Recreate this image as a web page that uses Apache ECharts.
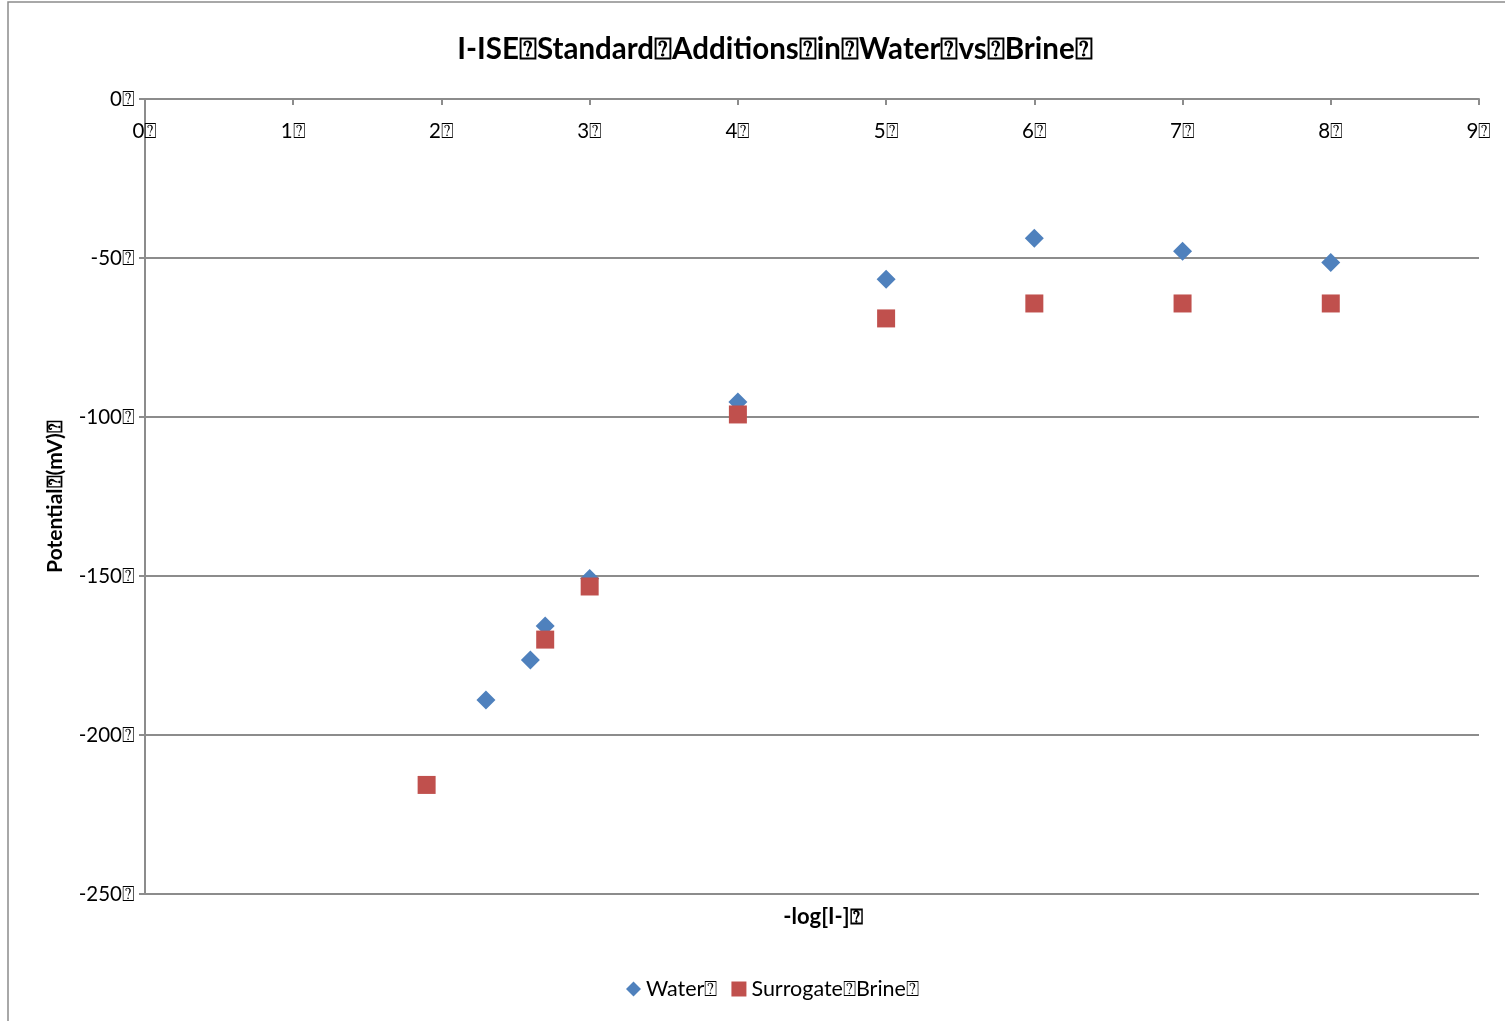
<!DOCTYPE html>
<html>
<head>
<meta charset="utf-8">
<script src="https://cdn.jsdelivr.net/npm/echarts@6/dist/echarts.min.js"></script>
<style>
  html, body { margin: 0; padding: 0; background: #fff; }
  #chart { width: 1505px; height: 1021px; }
</style>
</head>
<body>
<div id="chart"></div>
<script>
// 缺字符号（原图中显示为方框）
const Q = '\u2370';

// 数据
const waterX = [2.3, 2.6, 2.7, 3, 4, 5, 6, 7, 8];
const waterY = [-189, -176.4, -165.7, -150.8, -95.3, -56.7, -43.8, -47.9, -51.4];
const brineX = [1.9, 2.7, 3, 4, 5, 6, 7, 8];
const brineY = [-215.7, -170, -153.3, -99.2, -69, -64.3, -64.3, -64.3];

const FONT = 'Lato, "Noto Sans", sans-serif';
const AXIS_COLOR = '#8c8c8c';

const chart = echarts.init(document.getElementById('chart'));

const option = {
  backgroundColor: '#fff',
  animation: false,
  title: [
    {
      text: 'I-ISE' + Q + 'Standard' + Q + 'Additions' + Q + 'in' + Q + 'Water' + Q + 'vs' + Q + 'Brine' + Q,
      left: 770,
      textAlign: 'center',
      top: 29,
      textStyle: { fontFamily: FONT, fontSize: 29.5, fontWeight: 'bold', color: '#000' }
    },
    {
      text: '-log[I-]' + Q,
      left: 818,
      textAlign: 'center',
      top: 901,
      textStyle: { fontFamily: FONT, fontSize: 22, fontWeight: 'bold', color: '#000' }
    }
  ],
  graphic: [
    {
      type: 'rect',
      shape: { x: 8, y: 2, width: 1600, height: 1100 },
      style: { fill: 'none', stroke: '#8c8c8c', lineWidth: 1.5 },
      silent: true
    }
  ],
  legend: {
    left: 621,
    top: 973,
    orient: 'horizontal',
    itemWidth: 15,
    itemHeight: 15,
    itemGap: 14,
    textStyle: { fontFamily: FONT, fontSize: 21.5, color: '#000' },
    data: [
      { name: 'Water' + Q, icon: 'diamond' },
      { name: 'Surrogate' + Q + 'Brine' + Q, icon: 'rect' }
    ]
  },
  grid: { left: 145, top: 99, right: 26, bottom: 127 },
  xAxis: {
    type: 'value',
    min: 0,
    max: 9,
    interval: 1,
    position: 'top',
    axisLine: { onZero: false, lineStyle: { color: AXIS_COLOR, width: 2 } },
    axisTick: { show: true, inside: true, length: 6, lineStyle: { color: AXIS_COLOR, width: 2 } },
    axisLabel: {
      inside: true,
      margin: 22,
      fontFamily: FONT,
      fontSize: 20.5,
      color: '#000',
      formatter: v => v + Q
    },
    splitLine: { show: false }
  },
  yAxis: {
    type: 'value',
    min: -250,
    max: 0,
    interval: 50,
    name: 'Potential' + Q + '(mV)' + Q,
    nameLocation: 'middle',
    nameGap: 79,
    nameRotate: 90,
    nameTextStyle: { fontFamily: FONT, fontSize: 21, fontWeight: 'bold', color: '#000' },
    axisLine: { show: true, lineStyle: { color: AXIS_COLOR, width: 2 } },
    axisTick: { show: true, inside: false, length: 6, lineStyle: { color: AXIS_COLOR, width: 2 } },
    axisLabel: {
      margin: 10,
      fontFamily: FONT,
      fontSize: 20.5,
      color: '#000',
      formatter: v => v + Q
    },
    splitLine: { show: true, lineStyle: { color: AXIS_COLOR, width: 2 } }
  },
  series: [
    {
      name: 'Water' + Q,
      type: 'scatter',
      symbol: 'diamond',
      symbolSize: 19,
      itemStyle: { color: '#4f81bd', opacity: 1 },
      data: waterX.map((x, i) => [x, waterY[i]])
    },
    {
      name: 'Surrogate' + Q + 'Brine' + Q,
      type: 'scatter',
      symbol: 'rect',
      symbolSize: 18,
      itemStyle: { color: '#c0504d', opacity: 1 },
      data: brineX.map((x, i) => [x, brineY[i]])
    }
  ]
};

chart.setOption(option);
window.addEventListener('resize', () => chart.resize());
</script>
</body>
</html>
